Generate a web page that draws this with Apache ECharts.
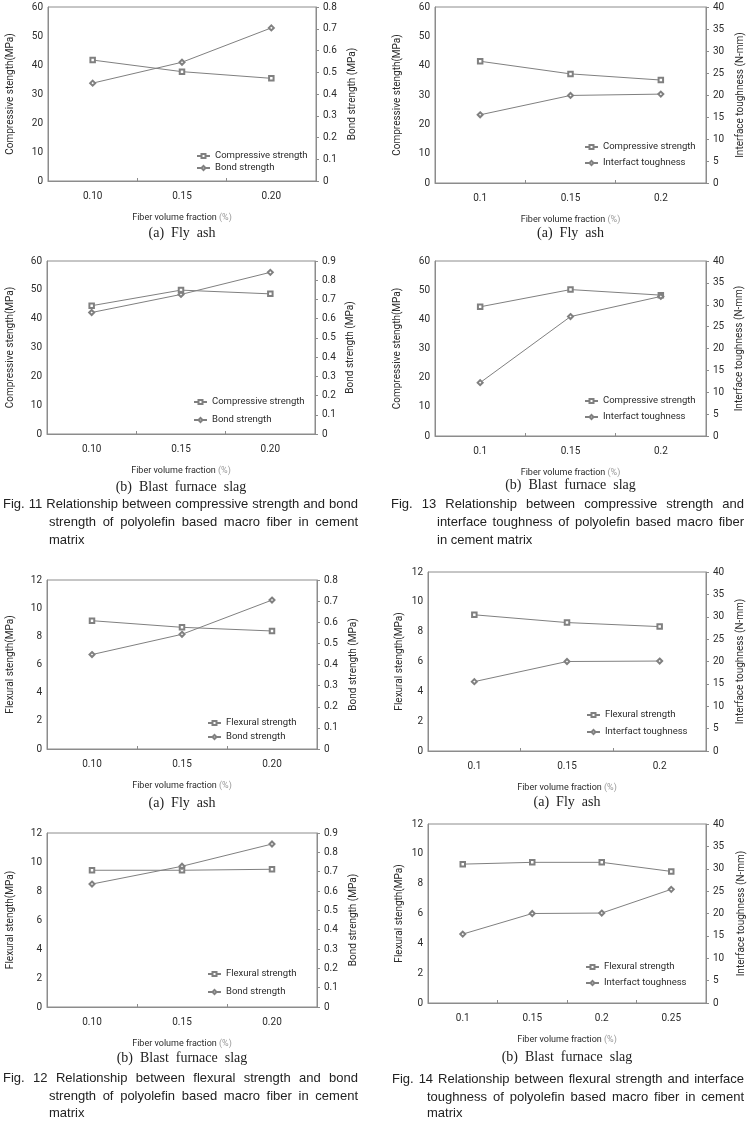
<!DOCTYPE html>
<html>
<head>
<meta charset="utf-8">
<script src="https://cdn.jsdelivr.net/npm/echarts@6/dist/echarts.min.js"></script>
<style>
html, body { margin: 0; padding: 0; background: #fff; }
#main { width: 748px; height: 1121px; }
</style>
</head>
<body>
<div id="main"></div>
<script>
// category labels (fiber volume fraction, %)
var fineCats = ['0.10', '0.15', '0.20'];
var shortCats = ['0.1', '0.15', '0.2'];
var slagCats = ['0.1', '0.15', '0.2', '0.25'];

// Fig. 11 compressive / bond strength
var fig11aCompressive = [41.7, 37.7, 35.4];
var fig11aBond = [0.450, 0.546, 0.704];
var fig11bCompressive = [44.5, 49.9, 48.6];
var fig11bBond = [0.632, 0.726, 0.841];

// Fig. 13 compressive strength / interface toughness
var fig13aCompressive = [41.5, 37.2, 35.1];
var fig13aToughness = [15.5, 19.9, 20.2];
var fig13bCompressive = [44.3, 50.2, 48.3];
var fig13bToughness = [12.2, 27.3, 31.9];

// Fig. 12 flexural / bond strength
var fig12aFlexural = [9.11, 8.64, 8.38];
var fig12aBond = [0.447, 0.543, 0.705];
var fig12bFlexural = [9.43, 9.43, 9.50];
var fig12bBond = [0.636, 0.728, 0.843];

// Fig. 14 flexural strength / interface toughness
var fig14aFlexural = [9.13, 8.61, 8.34];
var fig14aToughness = [15.5, 20.0, 20.1];
var fig14bFlexural = [9.31, 9.43, 9.43, 8.82];
var fig14bToughness = [15.4, 20.0, 20.1, 25.4];

var compName = 'Compressive stength(MPa)';
var flexName = 'Flexural stength(MPa)';
var bondName = 'Bond strength (MPa)';
var toughName = 'Interface toughness (N-mm)';

var panels = [
  {cats: fineCats, grid: [48, 7, 268, 174], lName: compName, lMax: 60, lStep: 10, rName: bondName, rMax: 0.8, rStep: 0.1,
   s1: 'Compressive strength', d1: fig11aCompressive, s2: 'Bond strength', d2: fig11aBond,
   legend: [196, 150, 0], caption: '(a)  Fly  ash', capY: 233, lGap: 33, rGap: 31},
  {cats: shortCats, grid: [435, 7, 271, 176], lName: compName, lMax: 60, lStep: 10, rName: toughName, rMax: 40, rStep: 5,
   s1: 'Compressive strength', d1: fig13aCompressive, s2: 'Interfact toughness', d2: fig13aToughness,
   legend: [584, 141, 4], caption: '(a)  Fly  ash', capY: 233, lGap: 33, rGap: 29},
  {cats: fineCats, grid: [47, 261, 268, 173], lName: compName, lMax: 60, lStep: 10, rName: bondName, rMax: 0.9, rStep: 0.1,
   s1: 'Compressive strength', d1: fig11bCompressive, s2: 'Bond strength', d2: fig11bBond,
   legend: [193, 396, 6], caption: '(b)  Blast  furnace  slag', capY: 487, lGap: 32, rGap: 30},
  {cats: shortCats, grid: [435, 261, 271, 175], lName: compName, lMax: 60, lStep: 10, rName: toughName, rMax: 40, rStep: 5,
   s1: 'Compressive strength', d1: fig13bCompressive, s2: 'Interfact toughness', d2: fig13bToughness,
   legend: [584, 395, 4], caption: '(b)  Blast  furnace  slag', capY: 485, lGap: 33, rGap: 28},
  {cats: fineCats, grid: [47, 580, 270, 169], lName: flexName, lMax: 12, lStep: 2, rName: bondName, rMax: 0.8, rStep: 0.1,
   s1: 'Flexural strength', d1: fig12aFlexural, s2: 'Bond strength', d2: fig12aBond,
   legend: [207, 717, 2], caption: '(a)  Fly  ash', capY: 803, lGap: 32, rGap: 31},
  {cats: shortCats, grid: [428, 572, 278, 179], lName: flexName, lMax: 12, lStep: 2, rName: toughName, rMax: 40, rStep: 5,
   s1: 'Flexural strength', d1: fig14aFlexural, s2: 'Interfact toughness', d2: fig14aToughness,
   legend: [586, 709, 5], caption: '(a)  Fly  ash', capY: 802, lGap: 24, rGap: 29},
  {cats: fineCats, grid: [47, 833, 270, 174], lName: flexName, lMax: 12, lStep: 2, rName: bondName, rMax: 0.9, rStep: 0.1,
   s1: 'Flexural strength', d1: fig12bFlexural, s2: 'Bond strength', d2: fig12bBond,
   legend: [207, 968, 6], caption: '(b)  Blast  furnace  slag', capY: 1058, lGap: 32, rGap: 31},
  {cats: slagCats, grid: [428, 824, 278, 179], lName: flexName, lMax: 12, lStep: 2, rName: toughName, rMax: 40, rStep: 5,
   s1: 'Flexural strength', d1: fig14bFlexural, s2: 'Interfact toughness', d2: fig14bToughness,
   legend: [585, 961, 4], caption: '(b)  Blast  furnace  slag', capY: 1057, lGap: 24, rGap: 30}
];

var axisGray = '#8c8c8c';
var lineGray = '#808080';
var textColor = '#2b2b2b';
var uiFont = 'Roboto';

var grids = [], xAxes = [], yAxes = [], series = [], legends = [], graphics = [];

panels.forEach(function (p, i) {
  grids.push({left: p.grid[0], top: p.grid[1], width: p.grid[2], height: p.grid[3],
    show: true, borderColor: axisGray, borderWidth: 1, backgroundColor: 'transparent'});

  xAxes.push({
    type: 'category', gridIndex: i, data: p.cats, boundaryGap: true,
    axisLine: {lineStyle: {color: axisGray}},
    axisTick: {show: true, inside: true, length: 3, lineStyle: {color: axisGray}},
    axisLabel: {margin: 10, fontSize: 10, fontFamily: uiFont, color: textColor},
    name: 'Fiber volume fraction {p|(%)}', nameLocation: 'middle', nameGap: 32,
    nameTextStyle: {fontSize: 9, fontFamily: uiFont, color: textColor,
      rich: {p: {fontSize: 9, fontFamily: uiFont, color: '#999'}}}
  });

  yAxes.push({
    type: 'value', gridIndex: i, position: 'left', min: 0, max: p.lMax, interval: p.lStep,
    axisLine: {show: true, lineStyle: {color: axisGray}},
    axisTick: {show: false}, splitLine: {show: false},
    axisLabel: {margin: 5, fontSize: 10, fontFamily: uiFont, color: textColor},
    name: p.lName, nameLocation: 'middle', nameRotate: 90, nameGap: p.lGap,
    nameTextStyle: {fontSize: 10, fontFamily: uiFont, color: textColor}
  });
  yAxes.push({
    type: 'value', gridIndex: i, position: 'right', min: 0, max: p.rMax, interval: p.rStep,
    axisLine: {show: true, lineStyle: {color: axisGray}},
    axisTick: {show: true, inside: false, length: 3, lineStyle: {color: axisGray}},
    splitLine: {show: false},
    axisLabel: {margin: 7, fontSize: 10, fontFamily: uiFont, color: textColor},
    name: p.rName, nameLocation: 'middle', nameRotate: 90, nameGap: p.rGap,
    nameTextStyle: {fontSize: 10, fontFamily: uiFont, color: textColor}
  });

  series.push({
    type: 'line', name: p.s1, xAxisIndex: i, yAxisIndex: 2 * i, data: p.d1,
    symbol: 'emptyRect', symbolSize: 4.5, color: lineGray,
    lineStyle: {width: 1, color: lineGray}, itemStyle: {borderWidth: 1}
  });
  series.push({
    type: 'line', name: p.s2, xAxisIndex: i, yAxisIndex: 2 * i + 1, data: p.d2,
    symbol: 'emptyDiamond', symbolSize: 5, color: lineGray,
    lineStyle: {width: 1, color: lineGray}, itemStyle: {borderWidth: 1}
  });

  legends.push({
    data: [p.s1, p.s2], orient: 'vertical', left: p.legend[0], top: p.legend[1],
    itemGap: p.legend[2], itemWidth: 13, itemHeight: 5, padding: 0, selectedMode: false,
    textStyle: {fontSize: 9.5, fontFamily: uiFont, color: textColor, lineHeight: 12}
  });

  graphics.push({
    type: 'text', x: p.grid[0] + p.grid[2] / 2, y: p.capY,
    style: {text: p.caption, font: '14px "Liberation Serif"', fill: '#222', align: 'center', verticalAlign: 'middle'}
  });
});

// figure captions, justified like the journal page
var measureCtx = document.createElement('canvas').getContext('2d');
var capFont = '13px "Liberation Sans"';
function captionLine(text, x0, x1, y, stretch) {
  measureCtx.font = capFont;
  var words = text.split(' ');
  if (!stretch || words.length < 2) {
    graphics.push({type: 'text', x: x0, y: y,
      style: {text: text, font: capFont, fill: '#222', align: 'left', verticalAlign: 'middle'}});
    return;
  }
  var widths = words.map(function (w) { return measureCtx.measureText(w).width; });
  var total = widths.reduce(function (a, b) { return a + b; }, 0);
  var gap = (x1 - x0 - total) / (words.length - 1);
  var x = x0;
  words.forEach(function (w, k) {
    graphics.push({type: 'text', x: x, y: y,
      style: {text: w, font: capFont, fill: '#222', align: 'left', verticalAlign: 'middle'}});
    x += widths[k] + gap;
  });
}

captionLine('Fig. 11 Relationship between compressive strength and bond', 3, 358, 504, true);
captionLine('strength of polyolefin based macro fiber in cement', 49, 358, 522, true);
captionLine('matrix', 49, 358, 540, false);

captionLine('Fig. 13 Relationship between compressive strength and', 391, 744, 504, true);
captionLine('interface toughness of polyolefin based macro fiber', 437, 744, 522, true);
captionLine('in cement matrix', 437, 744, 540, false);

captionLine('Fig. 12 Relationship between flexural strength and bond', 3, 358, 1078, true);
captionLine('strength of polyolefin based macro fiber in cement', 49, 358, 1096, true);
captionLine('matrix', 49, 358, 1113, false);

captionLine('Fig. 14 Relationship between flexural strength and interface', 392, 744, 1079, true);
captionLine('toughness of polyolefin based macro fiber in cement', 427, 744, 1097, true);
captionLine('matrix', 427, 744, 1113, false);

var myChart = echarts.init(document.getElementById('main'), null, {renderer: 'canvas'});
var option = {
  backgroundColor: '#fff',
  animation: false,
  grid: grids,
  xAxis: xAxes,
  yAxis: yAxes,
  legend: legends,
  series: series,
  graphic: graphics
};
myChart.setOption(option);
</script>
</body>
</html>
